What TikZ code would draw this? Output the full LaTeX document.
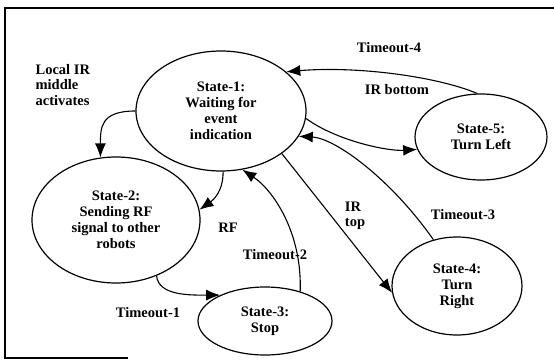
\documentclass[tikz,border=0pt]{standalone}
\usepackage{fontspec}
\setmainfont{Liberation Serif}
\usetikzlibrary{shapes.geometric, arrows.meta}
\tikzstyle{arrow} = [line width=1.1pt, -{Latex[length=14pt,width=11pt]}]

\begin{document}
\begin{tikzpicture}[x=1pt, y=-1pt, line width=1.2pt]
        \tikzstyle{state} = [ellipse, draw, inner sep=0pt, align=center,
        font=\fontsize{14.5}{16}\selectfont\bfseries]
        \tikzstyle{note} = [font=\fontsize{14.5}{15.5}\selectfont\bfseries, inner sep=0pt]

        \useasboundingbox (0,0) rectangle (554,361);
        \draw [line width=1.3pt] (128,358) -- (5,358) -- (5,8) -- (554,8);

        \node [state, minimum width=170pt, minimum height=120pt] (node1) at (221,111)
            {State-1:\\Waiting for\\event\\indication};
        \node [state, minimum width=168pt, minimum height=126pt] (node2) at (116,220)
            {State-2:\\Sending RF\\signal to other\\robots};
        \node [state, minimum width=134pt, minimum height=68pt] (node3) at (265,321)
            {State-3:\\Stop};
        \node [state, minimum width=130pt, minimum height=98pt] (node4) at (457,286)
            {State-4:\\Turn\\Right};
        \node [state, minimum width=132pt, minimum height=86pt] (node5) at (481,137)
            {State-5:\\Turn Left};

        \node [note, align=left, anchor=west] (local) at (35,85) {Local IR\\middle\\activates};
        \node [note] (rf) at (228,228) {RF};
        \node [note] (tout1) at (148,313) {Timeout-1};
        \node [note] (tout2) at (275,255) {Timeout-2};
        \node [note] (tout3) at (463,215) {Timeout-3};
        \node [note] (tout4) at (389,48) {Timeout-4};
        \node [note, align=left] (irtop) at (355,216) {IR\\top};
        \node [note] (irbot) at (397,90) {IR bottom};

        \draw [arrow] (node1.west) .. controls +(-35,0) and +(0,-30) .. (node2.104);
        \draw [arrow] (node1.-88) .. controls +(0,20) and +(14,-10) .. (node2.7);
        \draw [arrow] (node2.-54) .. controls +(2,20) and +(-30,0) .. (node3.150);
        \draw [arrow] (node3.40) .. controls +(2,-60) and +(30,20) .. (node1.-70);
        \draw [arrow] (node1.-35) -- (node4.186);
        \draw [arrow] (node4.117) .. controls +(-42,-60) and +(37,2) .. (node1.-18);
        \draw [arrow] (node1.-5) .. controls +(30,22) and +(-30,2) .. (node5.191);
        \draw [arrow] (node5.95) .. controls +(-40,-17) and +(70,-6) .. (node1.31);
    \end{tikzpicture}
\end{document}
